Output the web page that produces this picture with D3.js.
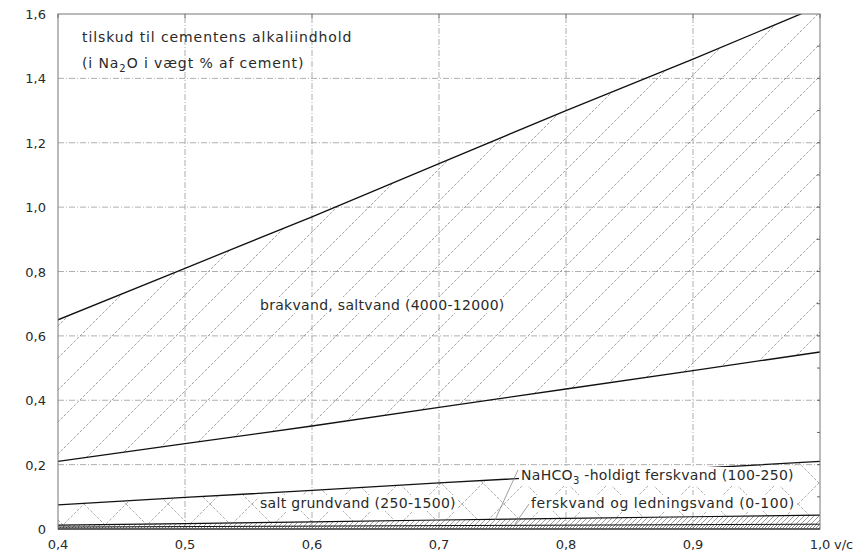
<!DOCTYPE html>
<html>
<head>
<meta charset="utf-8">
<script src="https://cdn.jsdelivr.net/npm/d3@7"></script>
<style>
body { margin: 0; background: #fff; }
text { font-family: "DejaVu Sans", sans-serif; fill: #2a2a2a; }
</style>
</head>
<body>
<svg id="chart" width="868" height="553"></svg>
<script>
// v/c values and the boundary curves (Na2O addition, % of cement)
var vc = [0.4, 0.5, 0.6, 0.7, 0.8, 0.9, 1.0];
var brakTop = [0.65, 0.81, 0.97, 1.135, 1.30, 1.46, 1.625];
var brakBottom = [0.21, 0.265, 0.32, 0.378, 0.435, 0.492, 0.55];
var saltTop = [0.075, 0.098, 0.12, 0.143, 0.165, 0.188, 0.21];
var nahco3Top = [0.012, 0.017, 0.022, 0.028, 0.033, 0.038, 0.043];
var ferskTop = [0.006, 0.0075, 0.009, 0.0105, 0.012, 0.0135, 0.015];

var xTicks = [0.4, 0.5, 0.6, 0.7, 0.8, 0.9, 1.0];
var yTicks = [0, 0.2, 0.4, 0.6, 0.8, 1.0, 1.2, 1.4, 1.6];
var xTickLabels = ["0,4", "0,5", "0,6", "0,7", "0,8", "0,9", "1,0"];
var yTickLabels = ["0", "0,2", "0,4", "0,6", "0,8", "1,0", "1,2", "1,4", "1,6"];

var svg = d3.select("#chart");
var x = d3.scaleLinear().domain([0.4, 1.0]).range([58, 820]);
var y = d3.scaleLinear().domain([0, 1.6]).range([529, 14]);

var defs = svg.append("defs");
defs.append("clipPath").attr("id", "plotclip")
	.append("rect")
	.attr("x", x(0.4)).attr("y", y(1.6))
	.attr("width", x(1.0) - x(0.4)).attr("height", y(0) - y(1.6));

function hatch (id, size, cross, color, dash) {
	var p = defs.append("pattern")
		.attr("id", id)
		.attr("patternUnits", "userSpaceOnUse")
		.attr("width", size).attr("height", size);
	p.append("line")
		.attr("x1", 0).attr("y1", size).attr("x2", size).attr("y2", 0)
		.attr("stroke", color).attr("stroke-width", 0.8).attr("stroke-dasharray", dash);
	if (cross)
		p.append("line")
			.attr("x1", 0).attr("y1", 0).attr("x2", size).attr("y2", size)
			.attr("stroke", color).attr("stroke-width", 0.8).attr("stroke-dasharray", dash);
}
hatch("hBrak", 32, false, "#8a8a8a", "3,1.5");
hatch("hSalt", 42, true, "#9a9a9a", "3,1.5");
hatch("hNa", 5, false, "#888", null);
hatch("hFersk", 3, false, "#666", null);

// grid
var grid = svg.append("g");
grid.selectAll(".gx").data(xTicks.slice(1, -1)).enter().append("line")
	.attr("x1", function (d) { return x(d); }).attr("x2", function (d) { return x(d); })
	.attr("y1", y(0)).attr("y2", y(1.6))
	.attr("stroke", "#9a9a9a").attr("stroke-width", 0.8).attr("stroke-dasharray", "6,2,1,2");
grid.selectAll(".gy").data(yTicks.slice(1, -1)).enter().append("line")
	.attr("x1", x(0.4)).attr("x2", x(1.0))
	.attr("y1", function (d) { return y(d); }).attr("y2", function (d) { return y(d); })
	.attr("stroke", "#9a9a9a").attr("stroke-width", 0.8).attr("stroke-dasharray", "6,2,1,2");

var rows = vc.map(function (v, i) {
	return { v: v, a: brakTop[i], b: brakBottom[i], s: saltTop[i], n: nahco3Top[i], f: ferskTop[i] };
});

function band (lo, hi, fill) {
	svg.append("path").datum(rows)
		.attr("clip-path", "url(#plotclip)")
		.attr("fill", fill)
		.attr("d", d3.area()
			.x(function (d) { return x(d.v); })
			.y0(function (d) { return y(lo(d)); })
			.y1(function (d) { return y(hi(d)); }));
}
band(function (d) { return d.b; }, function (d) { return d.a; }, "url(#hBrak)");
band(function (d) { return d.n; }, function (d) { return d.s; }, "url(#hSalt)");
band(function (d) { return d.f; }, function (d) { return d.n; }, "url(#hNa)");
band(function () { return 0; }, function (d) { return d.f; }, "url(#hFersk)");

function curve (key, w) {
	svg.append("path").datum(rows)
		.attr("clip-path", "url(#plotclip)")
		.attr("fill", "none").attr("stroke", "#111").attr("stroke-width", w)
		.attr("d", d3.line()
			.x(function (d) { return x(d.v); })
			.y(function (d) { return y(d[key]); }));
}
curve("a", 1.3);
curve("b", 1.3);
curve("s", 1.3);
curve("n", 1.2);
curve("f", 1.0);

// frame
svg.append("rect")
	.attr("x", x(0.4)).attr("y", y(1.6))
	.attr("width", x(1.0) - x(0.4)).attr("height", y(0) - y(1.6))
	.attr("fill", "none").attr("stroke", "#777").attr("stroke-width", 1);
svg.append("line")
	.attr("x1", x(0.4)).attr("x2", x(1.0)).attr("y1", y(0)).attr("y2", y(0))
	.attr("stroke", "#444").attr("stroke-width", 1.5);

// small ticks on the right edge and top
var minorY = d3.range(1, 16).map(function (i) { return i / 10; });
svg.selectAll(".ty").data(minorY).enter().append("line")
	.attr("x1", x(1.0) - 3).attr("x2", x(1.0))
	.attr("y1", function (d) { return y(d); }).attr("y2", function (d) { return y(d); })
	.attr("stroke", "#666");
svg.selectAll(".tx").data(xTicks).enter().append("line")
	.attr("x1", function (d) { return x(d); }).attr("x2", function (d) { return x(d); })
	.attr("y1", y(1.6)).attr("y2", y(1.6) + 4)
	.attr("stroke", "#666");

// tick labels
svg.selectAll(".lx").data(xTicks).enter().append("text")
	.attr("x", function (d) { return x(d); }).attr("y", 549)
	.attr("text-anchor", "middle").attr("font-size", 13)
	.text(function (d, i) { return xTickLabels[i]; });
svg.append("text").attr("x", 834).attr("y", 549).attr("font-size", 13).text("v/c");
svg.selectAll(".ly").data(yTicks).enter().append("text")
	.attr("x", 46).attr("y", function (d) { return y(d) + 5; })
	.attr("text-anchor", "end").attr("font-size", 13)
	.text(function (d, i) { return yTickLabels[i]; });

// title
svg.append("text").attr("x", 82).attr("y", 42).attr("font-size", 14).attr("letter-spacing", 0.9)
	.text("tilskud til cementens alkaliindhold");
var t2 = svg.append("text").attr("x", 82).attr("y", 68).attr("font-size", 14).attr("letter-spacing", 0.9);
t2.append("tspan").text("(i Na");
t2.append("tspan").attr("dy", 4).attr("font-size", 10).text("2");
t2.append("tspan").attr("dy", -4).text("O i vægt % af cement)");

// region labels with white boxes
function label (tx, ty, parts, pad, ls) {
	var g = svg.append("g");
	var r = g.append("rect").attr("fill", "#fff");
	var t = g.append("text").attr("x", tx).attr("y", ty).attr("font-size", 14).attr("letter-spacing", ls);
	parts.forEach(function (p) {
		var s = t.append("tspan").text(p[0]);
		if (p[1]) s.attr("dy", p[1]);
		if (p[2]) s.attr("font-size", p[2]);
	});
	var bb = t.node().getBBox();
	r.attr("x", bb.x - pad).attr("y", bb.y).attr("width", bb.width + 2 * pad).attr("height", bb.height);
}
label(260, 310, [["brakvand, saltvand (4000-12000)"]], 2, 0.3);
label(260, 508, [["salt grundvand (250-1500)"]], 2, 0.3);
label(521, 480, [["NaHCO"], ["3", 4, 10], [" -holdigt ferskvand (100-250)", -4]], 2, 0.3);
label(531, 508, [["ferskvand og ledningsvand (0-100)"]], 2, 0.55);

// leader lines
svg.append("line").attr("x1", 518).attr("y1", 470).attr("x2", 495).attr("y2", 520)
	.attr("stroke", "#888").attr("stroke-width", 0.8);
svg.append("line").attr("x1", 529).attr("y1", 504).attr("x2", 515).attr("y2", 524)
	.attr("stroke", "#888").attr("stroke-width", 0.8);
</script>
</body>
</html>
